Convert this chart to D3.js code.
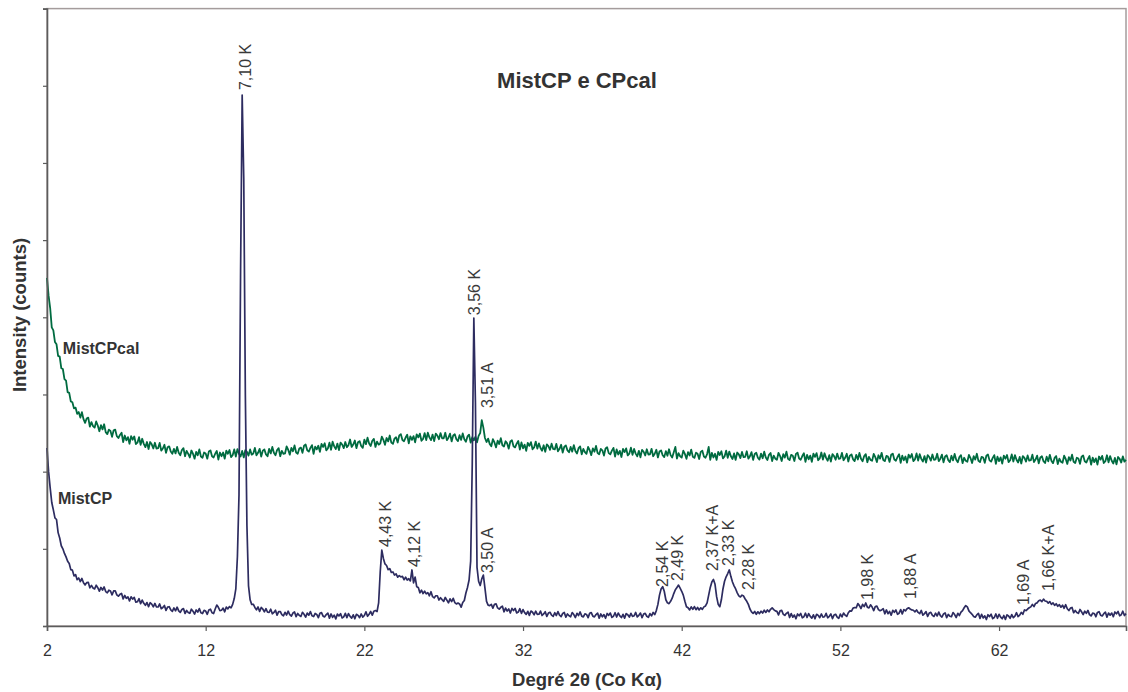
<!DOCTYPE html>
<html>
<head>
<meta charset="utf-8">
<script src="https://cdn.jsdelivr.net/npm/d3@7"></script>
<style>
  html, body { margin: 0; padding: 0; background: #fff; }
  svg { display: block; font-family: "Liberation Sans", Arial, sans-serif; }
</style>
</head>
<body>
<svg id="chart" width="1128" height="692"></svg>
<script>
// ---- data ----
const xStart = 2.0;   // degrees 2θ of first sample
const xStep = 0.1;    // sampling step (degrees)

// MistCP (counts, one row per degree: n.0 … n.9)
const mistCP = [
  1153,1000,895,800,752,700,690,605,570,520,
  500,470,448,420,405,365,362,325,333,300,
  311,288,308,280,266,281,283,247,263,246,
  240,264,248,226,250,233,253,223,215,232,
  227,202,227,228,202,193,205,211,175,198,
  179,189,162,189,174,185,154,157,177,145,
  168,147,134,152,125,151,142,124,146,123,
  123,143,112,120,133,101,122,125,104,95,
  117,98,122,98,88,107,113,81,101,88,
  82,109,96,77,104,90,113,86,81,101,
  97,76,104,109,86,81,110,136,121,100,
  102,116,92,123,111,126,118,140,178,240,
  450,850,2300,3440,2900,1500,650,260,170,140,
  141,120,105,123,95,120,110,92,112,89,
  88,109,79,88,102,70,93,94,74,66,
  89,71,96,73,64,84,91,60,81,69,
  62,89,76,57,84,70,93,66,61,81,
  75,54,82,87,64,59,74,84,51,78,
  56,70,46,77,65,80,52,59,82,54,
  80,62,51,72,47,76,69,54,78,58,
  68,92,63,76,94,70,96,100,94,150,
  350,492,438,402,392,365,372,347,350,330,
  338,316,326,318,322,300,316,298,306,292,
  363,280,317,255,250,215,232,210,225,208,
  216,196,222,190,182,196,196,168,183,171,
  160,185,168,150,176,158,179,152,143,149,
  143,122,152,165,214,250,298,420,1050,1995,
  1450,380,290,262,305,330,245,160,135,132,
  140,116,141,143,117,109,121,128,92,116,
  97,110,84,114,100,114,85,90,112,82,
  106,87,75,95,69,97,89,73,96,75,
  76,97,68,78,93,62,84,89,70,62,
  86,68,93,70,61,81,88,57,78,66,
  60,87,74,55,82,68,91,64,59,79,
  75,54,82,87,64,59,74,84,51,78,
  60,74,50,81,69,84,56,63,86,58,
  84,66,55,76,51,80,73,58,82,62,
  66,88,59,69,84,54,77,82,63,56,
  80,66,88,74,100,140,200,240,255,225,
  170,150,145,160,180,210,235,250,265,245,
  225,200,160,125,118,104,124,108,126,106,
  120,104,118,108,124,130,150,200,250,285,
  302,270,190,140,125,170,240,290,319,340,
  363,320,285,260,240,215,195,188,200,194,
  175,160,140,110,92,82,94,76,92,80,
  96,84,102,88,104,92,108,118,106,98,
  95,72,98,101,76,69,82,90,55,80,
  57,71,47,78,66,81,53,60,83,55,
  80,62,51,72,47,76,69,54,78,58,
  60,82,53,63,78,48,71,76,57,50,
  77,59,84,70,62,86,98,96,116,120,
  118,145,132,113,140,126,149,122,117,137,
  123,100,126,129,106,99,104,112,79,104,
  80,94,70,101,89,104,76,83,106,78,
  106,98,112,118,110,104,102,92,104,88,
  80,101,70,80,93,62,84,88,69,62,
  83,65,90,67,58,78,85,54,75,63,
  60,87,74,55,82,68,90,100,118,132,
  124,98,86,76,62,57,72,82,49,76,
  52,66,42,73,61,76,48,55,78,50,
  76,58,47,68,43,72,65,50,74,54,
  64,86,61,70,88,76,104,100,110,118,
  124,140,126,146,150,164,168,158,174,162,
  160,148,158,140,150,134,144,128,138,122,
  135,115,138,112,100,116,120,86,101,87,
  82,107,92,74,96,82,101,74,65,83,
  81,60,88,93,70,65,80,90,57,84,
  70,84,60,91,79,94,66,73,96,68,
  80
];

// MistCPcal (counts, same sampling)
const mistCPcal = [
  2255,2140,2060,1935,1915,1840,1825,1750,1745,1670,
  1665,1600,1590,1515,1510,1455,1450,1410,1415,1375,
  1386,1350,1385,1340,1316,1344,1350,1292,1321,1295,
  1285,1325,1299,1262,1301,1274,1307,1256,1243,1272,
  1264,1226,1268,1272,1230,1218,1238,1252,1192,1234,
  1203,1224,1181,1230,1207,1228,1179,1188,1223,1174,
  1213,1180,1159,1192,1147,1192,1177,1150,1187,1150,
  1152,1186,1136,1150,1174,1122,1158,1164,1130,1116,
  1148,1118,1160,1122,1106,1140,1152,1100,1135,1115,
  1092,1137,1116,1084,1128,1106,1144,1098,1090,1124,
  1118,1084,1130,1138,1100,1092,1116,1134,1078,1124,
  1100,1124,1084,1136,1116,1140,1094,1106,1144,1098,
  1146,1116,1098,1134,1092,1140,1128,1104,1144,1110,
  1118,1154,1106,1122,1148,1098,1136,1144,1112,1100,
  1148,1118,1160,1122,1106,1140,1152,1100,1135,1115,
  1118,1163,1142,1110,1154,1132,1170,1124,1116,1150,
  1156,1122,1168,1176,1138,1130,1154,1172,1116,1162,
  1144,1168,1128,1180,1160,1184,1138,1150,1188,1142,
  1194,1164,1146,1182,1140,1188,1176,1152,1192,1158,
  1172,1208,1160,1176,1202,1152,1190,1198,1166,1154,
  1208,1178,1220,1182,1166,1200,1212,1160,1195,1175,
  1182,1227,1206,1174,1218,1196,1234,1188,1180,1214,
  1223,1189,1235,1243,1205,1197,1221,1239,1183,1229,
  1206,1230,1190,1242,1222,1246,1200,1212,1250,1204,
  1252,1222,1204,1240,1198,1246,1234,1210,1250,1216,
  1216,1252,1204,1220,1246,1196,1234,1242,1210,1198,
  1236,1206,1248,1210,1194,1228,1240,1188,1223,1203,
  1226,1190,1232,1250,1334,1285,1218,1192,1214,1180,
  1165,1210,1189,1157,1201,1179,1217,1171,1163,1197,
  1183,1149,1195,1203,1165,1157,1181,1199,1143,1189,
  1151,1175,1135,1187,1167,1191,1145,1157,1195,1149,
  1183,1153,1135,1171,1129,1177,1165,1141,1181,1147,
  1144,1180,1132,1148,1174,1124,1162,1170,1138,1126,
  1160,1130,1172,1134,1118,1152,1164,1112,1147,1127,
  1115,1160,1139,1107,1151,1129,1167,1121,1113,1147,
  1138,1104,1150,1158,1120,1112,1136,1154,1098,1144,
  1111,1135,1095,1147,1127,1151,1105,1117,1155,1109,
  1147,1117,1099,1135,1093,1141,1129,1105,1145,1111,
  1112,1148,1100,1116,1142,1092,1130,1138,1106,1094,
  1133,1103,1145,1107,1091,1125,1160,1085,1120,1100,
  1091,1136,1115,1083,1127,1105,1143,1097,1089,1123,
  1116,1082,1128,1136,1098,1090,1114,1160,1076,1122,
  1092,1116,1076,1128,1108,1132,1086,1098,1136,1090,
  1130,1100,1082,1118,1076,1124,1112,1088,1128,1094,
  1096,1132,1084,1100,1126,1076,1114,1122,1090,1078,
  1117,1087,1129,1091,1075,1109,1121,1069,1104,1084,
  1077,1122,1101,1069,1113,1091,1129,1083,1075,1109,
  1103,1069,1115,1123,1085,1077,1101,1119,1063,1109,
  1080,1104,1064,1116,1096,1120,1074,1086,1124,1078,
  1119,1089,1071,1107,1065,1113,1101,1077,1117,1083,
  1086,1122,1074,1090,1116,1066,1104,1112,1080,1068,
  1109,1079,1121,1083,1067,1101,1113,1061,1096,1076,
  1070,1115,1094,1062,1106,1084,1122,1076,1068,1102,
  1097,1063,1109,1117,1079,1071,1095,1113,1057,1103,
  1074,1098,1058,1110,1090,1114,1068,1080,1118,1072,
  1113,1083,1065,1101,1059,1107,1095,1071,1111,1077,
  1080,1116,1068,1084,1110,1060,1098,1106,1074,1062,
  1103,1073,1115,1077,1061,1095,1107,1055,1090,1070,
  1064,1109,1088,1056,1100,1078,1116,1070,1062,1096,
  1091,1057,1103,1111,1073,1065,1089,1107,1051,1097,
  1068,1092,1052,1104,1084,1108,1062,1074,1112,1066,
  1107,1077,1059,1095,1053,1101,1089,1065,1105,1071,
  1074,1110,1062,1078,1104,1054,1092,1100,1068,1056,
  1097,1067,1109,1071,1055,1089,1101,1049,1084,1064,
  1058,1103,1082,1050,1094,1072,1110,1064,1056,1090,
  1085,1051,1097,1105,1067,1059,1083,1101,1045,1091,
  1062,1086,1046,1098,1078,1102,1056,1068,1106,1060,
  1101,1071,1053,1089,1047,1095,1083,1059,1099,1065,
  1076
];

const xTicks = [2, 12, 22, 32, 42, 52, 62];
const yTicks = [0, 500, 1000, 1500, 2000, 2500, 3000, 3500, 4000];

// peak annotations: [text, 2θ of label anchor, intensity of label anchor]
const peakLabels = [
  ["7,10 K", 14.85, 3472],
  ["4,43 K", 23.68, 512],
  ["4,12 K", 25.50, 382],
  ["3,56 K", 29.28, 2014],
  ["3,51 A", 30.10, 1412],
  ["3,50 A", 30.10, 343],
  ["2,54 K", 41.13, 253],
  ["2,49 K", 42.08, 291],
  ["2,37 K+A", 44.28, 356],
  ["2,33 K", 45.29, 389],
  ["2,28 K", 46.55, 233],
  ["1,98 K", 54.05, 168],
  ["1,88 A", 56.76, 175],
  ["1,69 A", 63.88, 136],
  ["1,66 K+A", 65.45, 227]
];

// series labels: [text, 2θ, intensity]
const seriesLabels = [
  ["MistCPcal", 3.0, 1763],
  ["MistCP", 2.69, 790]
];

// ---- drawing ----
const svg = d3.select("#chart");
const x = d3.scaleLinear().domain([2, 70]).range([47, 1126]);
const y = d3.scaleLinear().domain([0, 4000]).range([626, 8.6]);

const toPts = arr => arr.map((v, i) => [xStart + i * xStep, v]);
const line = d3.line().x(d => x(d[0])).y(d => y(d[1]));

// plot frame (top/right light border)
svg.append("rect")
  .attr("x", x(2)).attr("y", y(4000))
  .attr("width", x(70) - x(2)).attr("height", y(0) - y(4000))
  .attr("fill", "none").attr("stroke", "#a49c9c").attr("stroke-width", 1.5);

// series
svg.append("path").datum(toPts(mistCPcal))
  .attr("d", line).attr("fill", "none")
  .attr("stroke", "#006b40").attr("stroke-width", 1.8).attr("stroke-linejoin", "round");
svg.append("path").datum(toPts(mistCP))
  .attr("d", line).attr("fill", "none")
  .attr("stroke", "#2d2c60").attr("stroke-width", 1.7).attr("stroke-linejoin", "round");

// axes
const xAxis = svg.append("g").attr("transform", `translate(0,${y(0)})`)
  .call(d3.axisBottom(x).tickValues(xTicks).tickSize(5).tickPadding(14).tickFormat(d3.format("d")));
const yAxis = svg.append("g").attr("transform", `translate(${x(2)},0)`)
  .call(d3.axisLeft(y).tickValues(yTicks).tickSize(4).tickFormat(""));
[xAxis, yAxis].forEach(g => {
  g.select(".domain").attr("stroke", "#5c5c5c").attr("stroke-width", 1.6);
  g.selectAll(".tick line").attr("stroke", "#5c5c5c").attr("stroke-width", 1.2);
});
xAxis.selectAll(".tick text")
  .attr("font-size", 16).attr("fill", "#333")
  .attr("font-family", "'Liberation Sans', Arial, sans-serif");

// titles
svg.append("text").attr("x", 577).attr("y", 88)
  .attr("text-anchor", "middle").attr("font-size", 22).attr("font-weight", "bold")
  .attr("fill", "#333").text("MistCP e CPcal");
svg.append("text").attr("x", 587).attr("y", 686)
  .attr("text-anchor", "middle").attr("font-size", 18.5).attr("font-weight", "bold")
  .attr("fill", "#333").text("Degré 2θ (Co Kα)");
svg.append("text").attr("transform", "translate(26,315) rotate(-90)")
  .attr("text-anchor", "middle").attr("font-size", 18.5).attr("font-weight", "bold")
  .attr("fill", "#333").text("Intensity (counts)");

// series labels
svg.selectAll("text.series").data(seriesLabels).enter().append("text")
  .attr("class", "series")
  .attr("x", d => x(d[1])).attr("y", d => y(d[2]))
  .attr("font-size", 16).attr("font-weight", "bold").attr("fill", "#333")
  .text(d => d[0]);

// peak labels
svg.selectAll("text.peak").data(peakLabels).enter().append("text")
  .attr("class", "peak")
  .attr("transform", d => `translate(${x(d[1])},${y(d[2])}) rotate(-90)`)
  .attr("font-size", 16).attr("fill", "#3a3a3a")
  .text(d => d[0]);

if (mistCP.length !== 681 || mistCPcal.length !== 681) {
  console.error("length mismatch", mistCP.length, mistCPcal.length);
}
</script>
</body>
</html>
